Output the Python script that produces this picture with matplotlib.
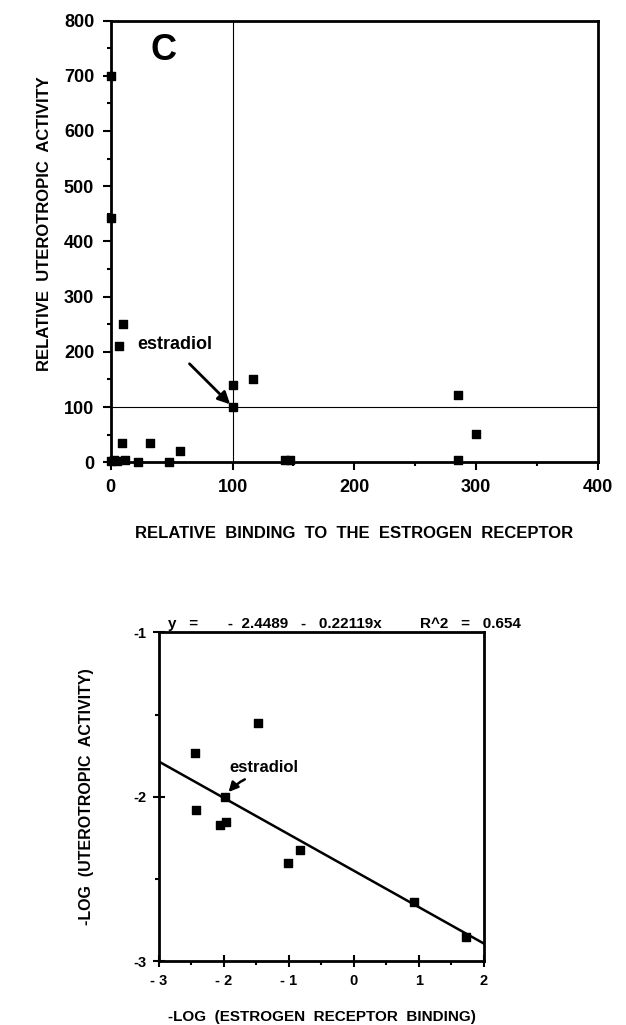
import matplotlib
matplotlib.use("Agg")
import matplotlib.pyplot as plt
import numpy as np
from matplotlib.ticker import MultipleLocator

plt.rcParams['font.family'] = ['Liberation Sans', 'DejaVu Sans']
plt.rcParams['font.weight'] = 'bold'
plt.rcParams['axes.labelweight'] = 'bold'

# panel C, top: raw values
binding = [0, 0, 10, 7, 9, 32, 57, 100, 100, 117, 0, 3, 5, 12, 22, 48, 143, 147, 285, 285, 300]
activity = [700, 442, 250, 210, 35, 35, 20, 140, 100, 150, 2, 5, 2, 5, 1, 1, 5, 5, 122, 5, 52]

# bottom: log values and fit
log_binding = [-2.45, -1.48, -1.98, -2.43, -2.06, -1.97, -1.01, -0.83, 0.92, 1.72]
log_activity = [-1.73, -1.55, -2.0, -2.08, -2.17, -2.15, -2.40, -2.32, -2.64, -2.85]
intercept = -2.4489
slope = -0.22119
r2 = 0.654

fig = plt.figure(figsize=(6.26, 10.25), dpi=100)

# ---- top panel
ax1 = fig.add_axes([0.177, 0.549, 0.778, 0.431])
ax1.axvline(100, color='black', lw=0.8)
ax1.axhline(100, color='black', lw=0.8)
ax1.scatter(binding, activity, marker='s', s=36, color='black', zorder=3, clip_on=False)
ax1.set_xlim(0, 400)
ax1.set_ylim(0, 800)
ax1.xaxis.set_major_locator(MultipleLocator(100))
ax1.xaxis.set_minor_locator(MultipleLocator(50))
ax1.yaxis.set_major_locator(MultipleLocator(100))
ax1.yaxis.set_minor_locator(MultipleLocator(50))
ax1.tick_params(which='major', direction='out', length=6, width=1.5, labelsize=13, pad=6)
ax1.tick_params(which='minor', direction='out', length=3, width=1.5)
for s in ax1.spines.values():
    s.set_linewidth(2)
ax1.set_xlabel("RELATIVE  BINDING  TO  THE  ESTROGEN  RECEPTOR", fontsize=12, labelpad=22)
ax1.set_ylabel("RELATIVE  UTEROTROPIC  ACTIVITY", fontsize=12)
ax1.yaxis.set_label_coords(-0.12, 0.54)
ax1.text(33, 745, "C", fontsize=26, va='center', ha='left')
ax1.annotate("estradiol", xy=(98, 105), xytext=(22, 213), fontsize=13,
             va='center', ha='left',
             arrowprops=dict(arrowstyle='-|>', color='black', lw=2, mutation_scale=18,
                             shrinkA=8, shrinkB=0, relpos=(0.55, 0)))

# ---- bottom panel
ax2 = fig.add_axes([0.254, 0.062, 0.519, 0.321])
xs = np.array([-3, 2])
ax2.plot(xs, intercept + slope * xs, color='black', lw=1.8)
ax2.scatter(log_binding, log_activity, marker='s', s=30, color='black', zorder=3)
ax2.set_xlim(-3, 2)
ax2.set_ylim(-3, -1)
ax2.set_xticks([-3, -2, -1, 0, 1, 2])
ax2.set_xticklabels(["- 3", "- 2", "- 1", "0", "1", "2"])
ax2.set_yticks([-3, -2, -1])
ax2.set_yticklabels(["-3", "-2", "-1"])
ax2.xaxis.set_minor_locator(MultipleLocator(0.5))
ax2.yaxis.set_minor_locator(MultipleLocator(0.5))
ax2.tick_params(which='major', direction='inout', length=8, width=1.5, labelsize=10.5, pad=5)
ax2.tick_params(which='minor', direction='out', length=3, width=1.5)
for s in ax2.spines.values():
    s.set_linewidth(2)
ax2.set_xlabel("-LOG  (ESTROGEN  RECEPTOR  BINDING)", fontsize=11, labelpad=16)
ax2.set_ylabel("-LOG  (UTEROTROPIC  ACTIVITY)", fontsize=11.5, labelpad=28)
eq = "y   =       -  %.4f   -   %.5fx         R^2   =   %.3f" % (-intercept, -slope, r2)
ax2.text(-2.86, -0.99, eq, fontsize=11, ha='left', va='bottom')
ax2.annotate("estradiol", xy=(-1.93, -1.97), xytext=(-1.92, -1.82), fontsize=12,
             va='center', ha='left',
             arrowprops=dict(arrowstyle='-|>', color='black', lw=1.8, mutation_scale=14,
                             shrinkA=3, shrinkB=0, relpos=(0.4, 0),
                             connectionstyle='arc3,rad=0.15'))

fig.savefig("out.png", dpi=100)
